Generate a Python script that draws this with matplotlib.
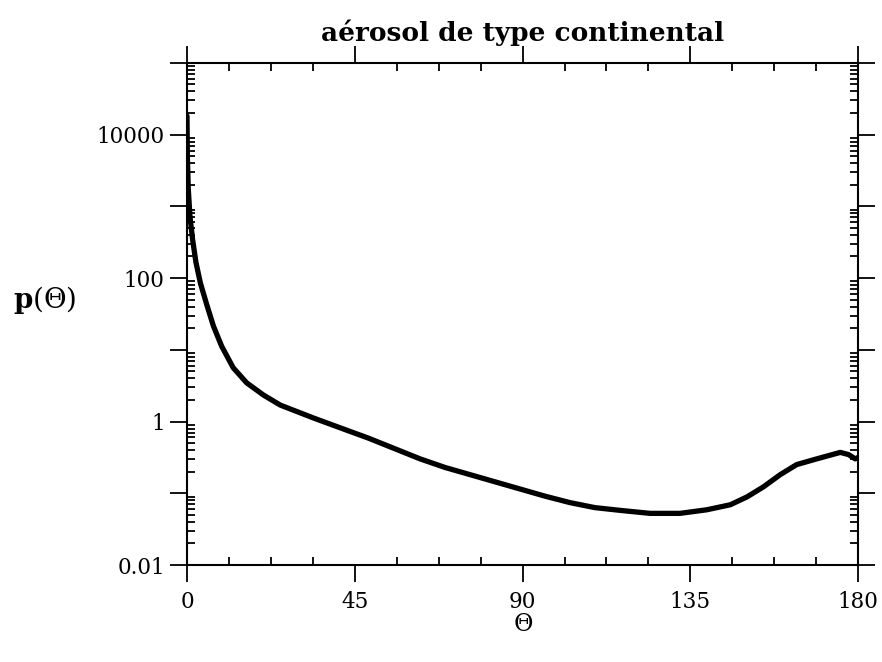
import numpy as np
import matplotlib
matplotlib.use("Agg")
import matplotlib.pyplot as plt
from matplotlib.ticker import MultipleLocator, LogLocator, FuncFormatter

# phase function (theta in degrees, log10 p(theta))
theta = [0, 0.1, 0.35, 0.8, 1.5, 2.4, 3.6, 5.3, 7.1, 9.3, 12.4, 16.0, 20.5,
         25.0, 33.9, 42.8, 48.6, 55.8, 62.5, 69.2, 75.9, 82.6, 89.3, 96.0,
         102.7, 109.4, 116.5, 124.2, 132.2, 139.4, 145.7, 150.2, 154.6,
         159.1, 163.5, 168.9, 175.2, 177.4, 179.2, 180]
logp = [4.26, 3.70, 3.24, 2.86, 2.54, 2.22, 1.93, 1.63, 1.33, 1.05, 0.75,
        0.54, 0.37, 0.23, 0.05, -0.12, -0.23, -0.38, -0.52, -0.64, -0.74,
        -0.84, -0.94, -1.04, -1.13, -1.20, -1.24, -1.28, -1.28, -1.23,
        -1.16, -1.05, -0.91, -0.74, -0.60, -0.52, -0.43, -0.46, -0.52, -0.50]
p = 10.0 ** np.array(logp)

ylabels = {0.01: "0.01", 1: "1", 100: "100", 10000: "10000"}

plt.rcParams['font.family'] = 'DejaVu Serif'
plt.rcParams['mathtext.fontset'] = 'dejavuserif'

fig = plt.figure(figsize=(8.82, 6.62), dpi=100)
ax = fig.add_axes([0.212, 0.1465, 0.761, 0.7585])

ax.plot(theta, p, color='black', lw=3.8, solid_capstyle='round',
        solid_joinstyle='round')

ax.set_yscale('log')
ax.set_xlim(0, 180)
ax.set_ylim(0.01, 1e5)

ax.xaxis.set_major_locator(MultipleLocator(45))
ax.xaxis.set_minor_locator(MultipleLocator(11.25))
ax.yaxis.set_major_locator(LogLocator(base=10, numticks=20))
ax.yaxis.set_minor_locator(LogLocator(base=10, subs=np.arange(2, 10), numticks=20))
ax.yaxis.set_major_formatter(FuncFormatter(lambda v, pos: ylabels.get(round(v, 6), "")))
ax.yaxis.set_minor_formatter(FuncFormatter(lambda v, pos: ""))

ax.tick_params(which='major', direction='out', length=12, width=1.3,
               top=True, right=True, labelsize=15.5)
ax.tick_params(axis='x', which='major', pad=7)
ax.tick_params(axis='y', which='major', pad=4)
ax.tick_params(which='minor', direction='in', length=6, width=1.3,
               top=True, right=True)
for s in ax.spines.values():
    s.set_linewidth(1.5)

ax.set_title("aérosol de type continental", fontsize=19, fontweight='bold', pad=16)
ax.set_xlabel(r"$\Theta$", fontsize=17, labelpad=0)
fig.text(0.051, 1 - 300 / 662, r"$\mathbf{p}(\Theta)$", fontsize=20,
         ha='center', va='center')

fig.savefig("out.png", dpi=100)
